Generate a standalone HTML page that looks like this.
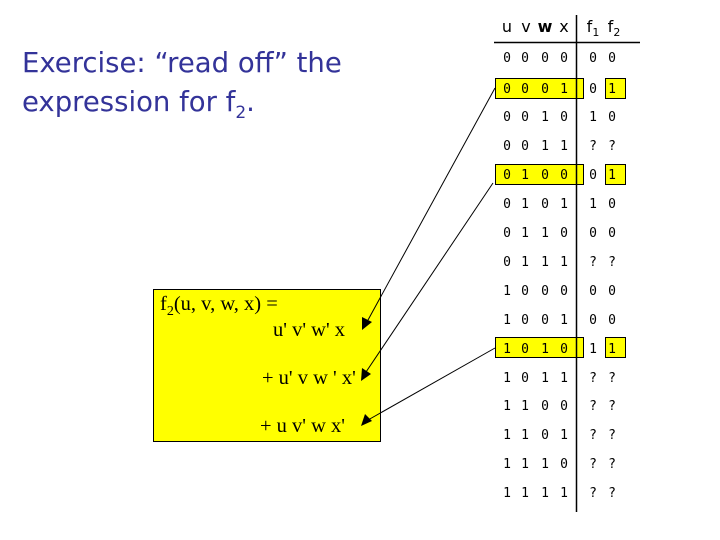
<!DOCTYPE html>
<html><head><style>body{margin:0;background:#fff}svg{display:block}</style></head><body>
<svg width="720" height="540" xmlns="http://www.w3.org/2000/svg">
<text x="22" y="72" font-family="Comic Sans MS, 'DejaVu Sans', sans-serif" font-size="27.5" fill="#333399">Exercise: “read off” the</text>
<text x="22" y="111" font-family="Comic Sans MS, 'DejaVu Sans', sans-serif" font-size="27.5" fill="#333399">expression for f<tspan font-size="17" dy="7">2</tspan><tspan dy="-7">.</tspan></text>
<rect x="495.5" y="78.5" width="88" height="20" fill="#ffff00" stroke="#000"/>
<rect x="605.5" y="78.5" width="20" height="20" fill="#ffff00" stroke="#000"/>
<rect x="495.5" y="164.5" width="88" height="20" fill="#ffff00" stroke="#000"/>
<rect x="605.5" y="164.5" width="20" height="20" fill="#ffff00" stroke="#000"/>
<rect x="495.5" y="337.5" width="88" height="20" fill="#ffff00" stroke="#000"/>
<rect x="605.5" y="337.5" width="20" height="20" fill="#ffff00" stroke="#000"/>
<line x1="494" y1="42.5" x2="640" y2="42.5" stroke="#000" stroke-width="1.5"/>
<line x1="576.5" y1="15" x2="576.5" y2="512" stroke="#000" stroke-width="1.5"/>
<g font-family="'DejaVu Sans', sans-serif" font-size="16" text-anchor="middle">
<text x="507" y="32">u</text><text x="526" y="32">v</text><text x="545" y="32" font-weight="bold">w</text><text x="564" y="32">x</text>
<text x="593" y="32">f<tspan font-size="11" dy="4">1</tspan></text><text x="614" y="32">f<tspan font-size="11" dy="4">2</tspan></text>
</g>
<g font-family="'DejaVu Sans Mono', monospace" font-size="13" text-anchor="middle">
<text x="507" y="62">0</text><text x="525" y="62">0</text><text x="545" y="62">0</text><text x="564" y="62">0</text><text x="593" y="62">0</text><text x="612" y="62">0</text>
<text x="507" y="93">0</text><text x="525" y="93">0</text><text x="545" y="93">0</text><text x="564" y="93">1</text><text x="593" y="93">0</text><text x="612" y="93">1</text>
<text x="507" y="121">0</text><text x="525" y="121">0</text><text x="545" y="121">1</text><text x="564" y="121">0</text><text x="593" y="121">1</text><text x="612" y="121">0</text>
<text x="507" y="150">0</text><text x="525" y="150">0</text><text x="545" y="150">1</text><text x="564" y="150">1</text><text x="593" y="150">?</text><text x="612" y="150">?</text>
<text x="507" y="179">0</text><text x="525" y="179">1</text><text x="545" y="179">0</text><text x="564" y="179">0</text><text x="593" y="179">0</text><text x="612" y="179">1</text>
<text x="507" y="208">0</text><text x="525" y="208">1</text><text x="545" y="208">0</text><text x="564" y="208">1</text><text x="593" y="208">1</text><text x="612" y="208">0</text>
<text x="507" y="237">0</text><text x="525" y="237">1</text><text x="545" y="237">1</text><text x="564" y="237">0</text><text x="593" y="237">0</text><text x="612" y="237">0</text>
<text x="507" y="266">0</text><text x="525" y="266">1</text><text x="545" y="266">1</text><text x="564" y="266">1</text><text x="593" y="266">?</text><text x="612" y="266">?</text>
<text x="507" y="295">1</text><text x="525" y="295">0</text><text x="545" y="295">0</text><text x="564" y="295">0</text><text x="593" y="295">0</text><text x="612" y="295">0</text>
<text x="507" y="324">1</text><text x="525" y="324">0</text><text x="545" y="324">0</text><text x="564" y="324">1</text><text x="593" y="324">0</text><text x="612" y="324">0</text>
<text x="507" y="353">1</text><text x="525" y="353">0</text><text x="545" y="353">1</text><text x="564" y="353">0</text><text x="593" y="353">1</text><text x="612" y="353">1</text>
<text x="507" y="382">1</text><text x="525" y="382">0</text><text x="545" y="382">1</text><text x="564" y="382">1</text><text x="593" y="382">?</text><text x="612" y="382">?</text>
<text x="507" y="410">1</text><text x="525" y="410">1</text><text x="545" y="410">0</text><text x="564" y="410">0</text><text x="593" y="410">?</text><text x="612" y="410">?</text>
<text x="507" y="439">1</text><text x="525" y="439">1</text><text x="545" y="439">0</text><text x="564" y="439">1</text><text x="593" y="439">?</text><text x="612" y="439">?</text>
<text x="507" y="468">1</text><text x="525" y="468">1</text><text x="545" y="468">1</text><text x="564" y="468">0</text><text x="593" y="468">?</text><text x="612" y="468">?</text>
<text x="507" y="497">1</text><text x="525" y="497">1</text><text x="545" y="497">1</text><text x="564" y="497">1</text><text x="593" y="497">?</text><text x="612" y="497">?</text>
</g>
<rect x="153.5" y="289.5" width="227" height="152" fill="#ffff00" stroke="#000"/>
<g font-family="'Liberation Serif', serif" font-size="20.5" fill="#000">
<text x="160" y="310">f<tspan font-size="14" dy="5">2</tspan><tspan dy="-5">(u, v, w, x) =</tspan></text>
<text x="273" y="336">u' v' w' x</text>
<text x="262" y="384">+ u' v w ' x'</text>
<text x="260" y="432">+ u v' w x'</text>
</g>
<g stroke="#000" stroke-width="1">
<line x1="495" y1="88" x2="368" y2="320"/>
<line x1="493" y1="183" x2="366" y2="372"/>
<line x1="495" y1="348" x2="368" y2="420"/>
</g>
<g fill="#000">
<polygon points="362,330 362,317 372,322"/>
<polygon points="361,381 362,368 371,374"/>
<polygon points="361,426 365,414 372,421"/>
</g>
</svg>
</body></html>
